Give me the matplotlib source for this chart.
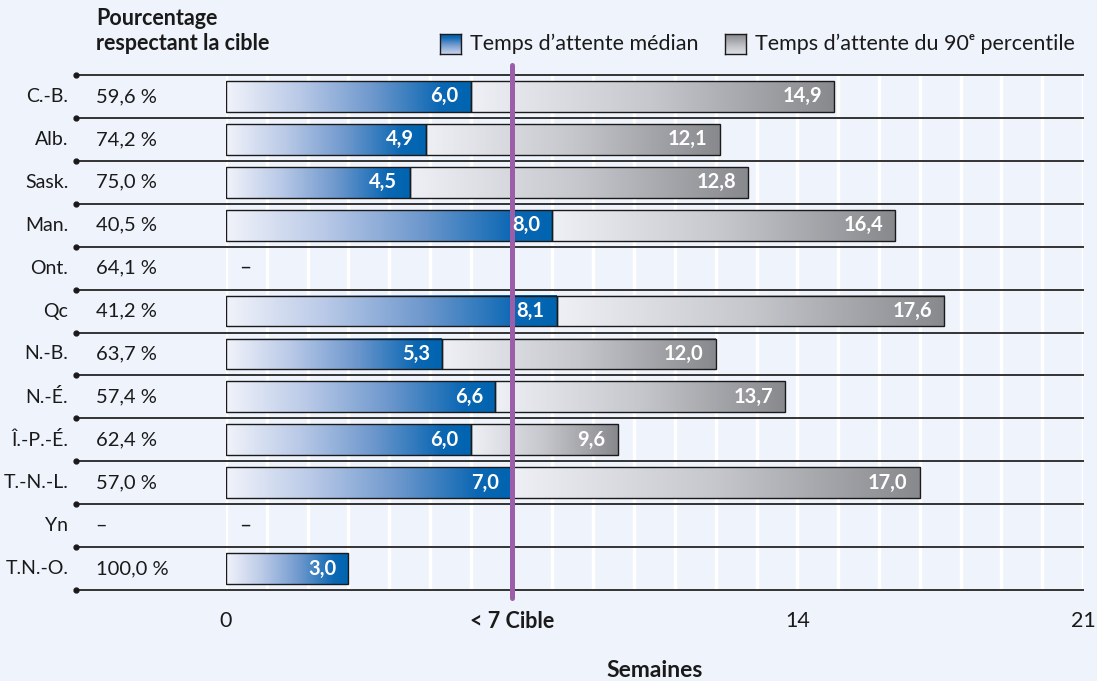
import numpy as np
import matplotlib
matplotlib.use("Agg")
import matplotlib.pyplot as plt
from matplotlib.colors import LinearSegmentedColormap
from matplotlib.patches import Rectangle

plt.rcParams['font.family'] = ['Lato', 'DejaVu Sans']

# data
provinces = ['C.-B.', 'Alb.', 'Sask.', 'Man.', 'Ont.', 'Qc', 'N.-B.', 'N.-É.',
             'Î.-P.-É.', 'T.-N.-L.', 'Yn', 'T.N.-O.']
pct_target = [59.6, 74.2, 75.0, 40.5, 64.1, 41.2, 63.7, 57.4, 62.4, 57.0, None, 100.0]
median = [6.0, 4.9, 4.5, 8.0, None, 8.1, 5.3, 6.6, 6.0, 7.0, None, 3.0]
p90 = [14.9, 12.1, 12.8, 16.4, None, 17.6, 12.0, 13.7, 9.6, 17.0, None, None]
target = 7
xticks = [0, 7, 14, 21]
xticklabels = ['0', '< 7 Cible', '14', '21']

bg = '#eff3fb'
blue_cm = LinearSegmentedColormap.from_list(
    'blu', [(0, '#f1f3fa'), (0.3, '#b9c9e7'), (0.6, '#6e98cd'), (0.88, '#0b67b3'), (1, '#0064b0')])
gray_cm = LinearSegmentedColormap.from_list(
    'gry', [(0, '#eff0f5'), (0.5, '#c6c7cc'), (1, '#88898d')])
grad = np.linspace(0, 1, 256).reshape(1, -1)

def fmt(v):
    return f'{v:.1f}'.replace('.', ',')

fig = plt.figure(figsize=(10.97, 6.81), dpi=100, facecolor=bg)
ax = fig.add_axes([226 / 1097, 1 - 590 / 681, 857 / 1097, 515 / 681])
ax.set_facecolor(bg)

h = 0.72
for i, prov in enumerate(provinces):
    m = median[i]
    p = p90[i]
    if m is not None:
        ax.imshow(grad, cmap=blue_cm, extent=[0, m, i + h / 2, i - h / 2],
                  aspect='auto', zorder=3, interpolation='bicubic')
        ax.add_patch(Rectangle((0, i - h / 2), m, h, fill=False, ec='#1a1a1a', lw=1, zorder=4))
        ax.text(m - 0.3, i, fmt(m), ha='right', va='center', color='white',
                fontsize=14.5, fontweight='bold', zorder=7)
    if p is not None:
        ax.imshow(grad, cmap=gray_cm, extent=[m, p, i + h / 2, i - h / 2],
                  aspect='auto', zorder=3, interpolation='bicubic')
        ax.add_patch(Rectangle((m, i - h / 2), p - m, h, fill=False, ec='#1a1a1a', lw=1, zorder=4))
        ax.text(p - 0.3, i, fmt(p), ha='right', va='center', color='white',
                fontsize=14.5, fontweight='bold', zorder=7)
    if m is None:
        ax.text(0.47, i, '–', ha='center', va='center', fontsize=15, color='#1a1a1a')

    # left columns
    ax.text(-0.184, i, prov, ha='right', va='center', fontsize=14,
            transform=ax.get_yaxis_transform(), color='#1a1a1a')
    pt = '–' if pct_target[i] is None else fmt(pct_target[i]) + ' %'
    ax.text(-0.152, i, pt, ha='left', va='center', fontsize=14.5,
            transform=ax.get_yaxis_transform(), color='#1a1a1a')

# row separators with dots at the left
for k in range(len(provinces) + 1):
    y = k - 0.5
    ax.plot([-0.175, 1], [y, y], color='#333333', lw=1.4, clip_on=False,
            transform=ax.get_yaxis_transform(), zorder=2)
    ax.plot([-0.175], [y], 'o', color='#1a1a1a', ms=3.5, clip_on=False,
            transform=ax.get_yaxis_transform(), zorder=2)

# target line
ax.plot([target, target], [-0.73, 11.68], color='#9b5ea8', lw=3.6,
        solid_capstyle='round', clip_on=False, zorder=6)

ax.set_xlim(0, 21)
ax.set_ylim(len(provinces) - 0.5, -0.5)
ax.set_xticks(xticks)
ax.set_xticklabels(xticklabels, fontsize=15.5)
ax.get_xticklabels()[1].set_fontweight('bold')
ax.set_xticks(range(22), minor=True)
ax.tick_params(axis='x', which='both', length=0, pad=15, colors='#1a1a1a')
ax.set_yticks([])
ax.grid(axis='x', which='both', color='white', lw=2.5, zorder=0)
ax.set_axisbelow(True)
for s in ax.spines.values():
    s.set_visible(False)
ax.set_xlabel('Semaines', fontsize=16.5, fontweight='bold', labelpad=20, color='#1a1a1a')

# header of the percent column
fig.text(96 / 1097, 1 - 31 / 681, 'Pourcentage\nrespectant la cible', ha='left', va='center',
         fontsize=15.5, fontweight='bold', linespacing=1.2, color='#1a1a1a')

# legend
vgrad = np.linspace(1, 0, 64).reshape(-1, 1)
for x0, cm, label in [(440, blue_cm, 'Temps d’attente médian'),
                      (725, gray_cm, 'Temps d’attente du 90ᵉ percentile')]:
    lax = fig.add_axes([x0 / 1097, 1 - 54 / 681, 21 / 1097, 20 / 681])
    lax.imshow(vgrad, cmap=cm, aspect='auto', vmin=-0.3, vmax=1)
    lax.set_xticks([])
    lax.set_yticks([])
    for s in lax.spines.values():
        s.set_color('#1a1a1a')
        s.set_linewidth(1)
    fig.text((x0 + 30) / 1097, 1 - 44 / 681, label, ha='left', va='center',
             fontsize=15.5, color='#1a1a1a')

fig.savefig('out.png', dpi=100, facecolor=bg)
